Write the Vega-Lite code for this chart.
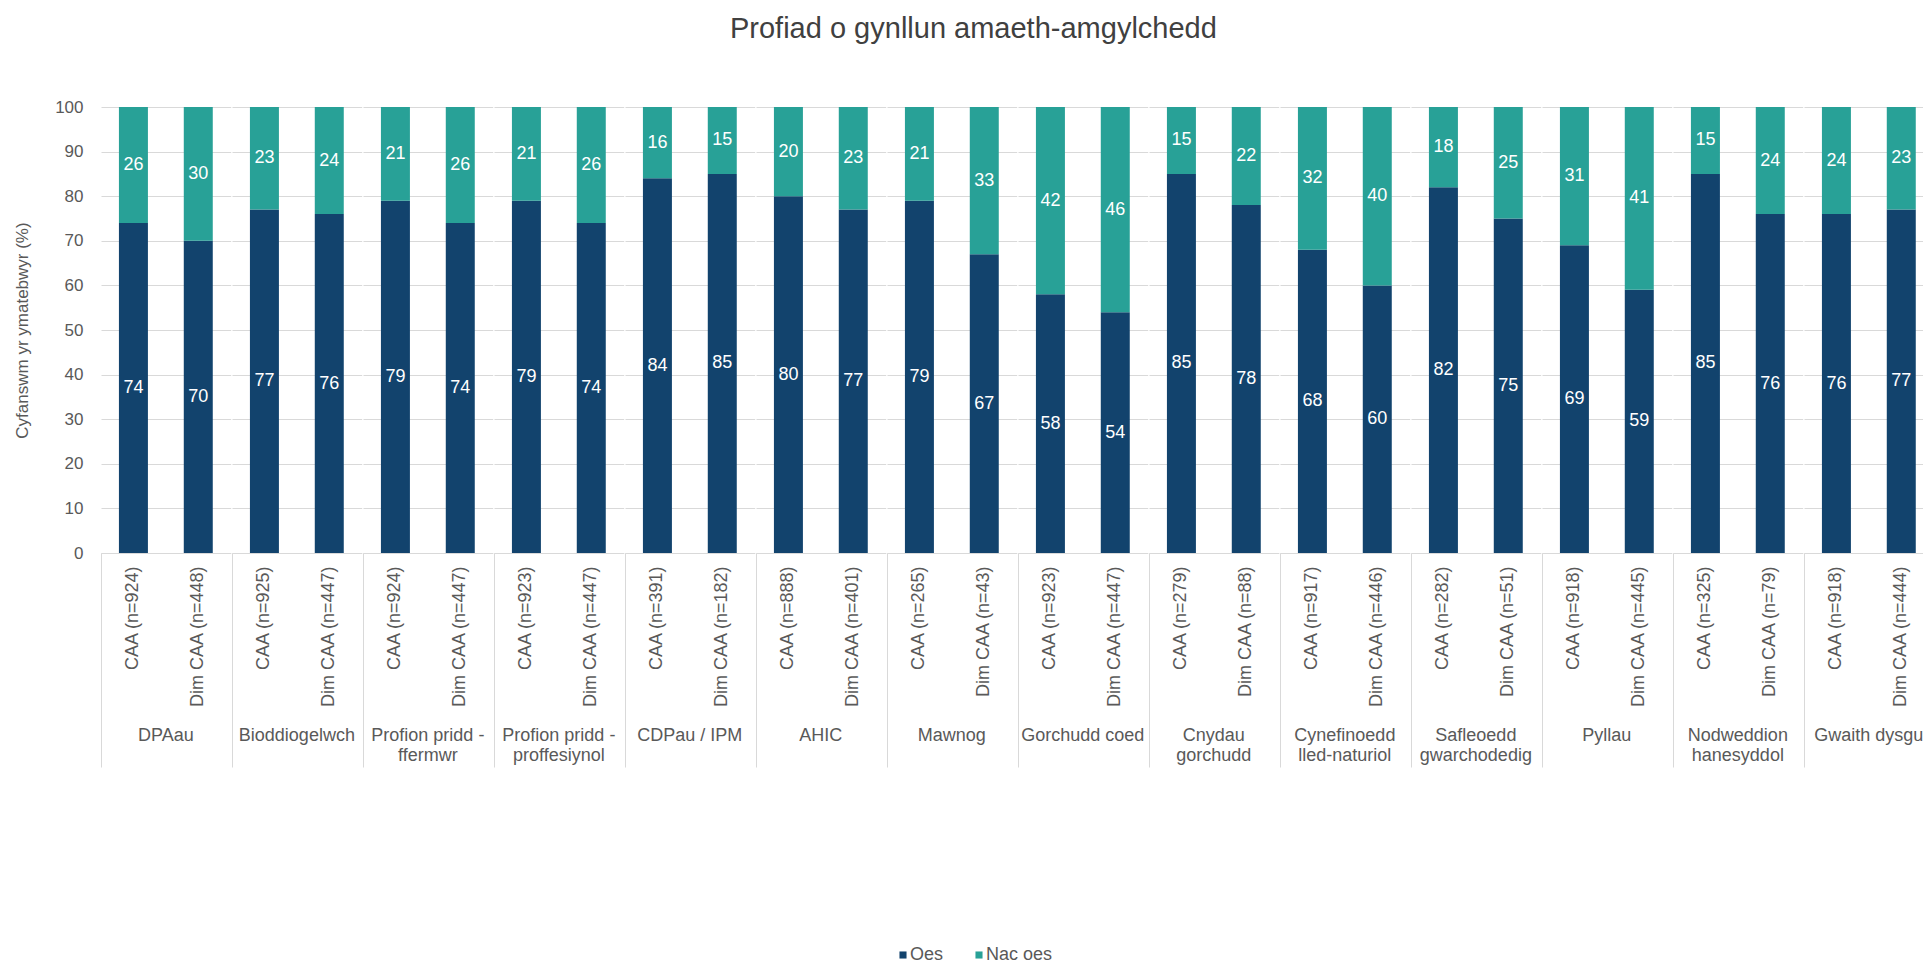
{
  "$schema": "https://vega.github.io/schema/vega-lite/v6.json",
  "padding": {"top": 15, "left": 13, "right": 12, "bottom": 0},
  "title": {"text": "Profiad o gynllun amaeth-amgylchedd", "fontSize": 29, "font": "Liberation Sans", "fontWeight": "normal", "color": "#404040", "anchor": "middle", "frame": "bounds", "offset": 54},
  "data": {"values": [
    {"group":"DPAau","label":"CAA (n=924)","resp":"Oes","value":74},
    {"group":"DPAau","label":"CAA (n=924)","resp":"Nac oes","value":26},
    {"group":"DPAau","label":"Dim CAA (n=448)","resp":"Oes","value":70},
    {"group":"DPAau","label":"Dim CAA (n=448)","resp":"Nac oes","value":30},
    {"group":"Bioddiogelwch","label":"CAA (n=925)","resp":"Oes","value":77},
    {"group":"Bioddiogelwch","label":"CAA (n=925)","resp":"Nac oes","value":23},
    {"group":"Bioddiogelwch","label":"Dim CAA (n=447)","resp":"Oes","value":76},
    {"group":"Bioddiogelwch","label":"Dim CAA (n=447)","resp":"Nac oes","value":24},
    {"group":"Profion pridd - ffermwr","label":"CAA (n=924)","resp":"Oes","value":79},
    {"group":"Profion pridd - ffermwr","label":"CAA (n=924)","resp":"Nac oes","value":21},
    {"group":"Profion pridd - ffermwr","label":"Dim CAA (n=447)","resp":"Oes","value":74},
    {"group":"Profion pridd - ffermwr","label":"Dim CAA (n=447)","resp":"Nac oes","value":26},
    {"group":"Profion pridd - proffesiynol","label":"CAA (n=923)","resp":"Oes","value":79},
    {"group":"Profion pridd - proffesiynol","label":"CAA (n=923)","resp":"Nac oes","value":21},
    {"group":"Profion pridd - proffesiynol","label":"Dim CAA (n=447)","resp":"Oes","value":74},
    {"group":"Profion pridd - proffesiynol","label":"Dim CAA (n=447)","resp":"Nac oes","value":26},
    {"group":"CDPau / IPM","label":"CAA (n=391)","resp":"Oes","value":84},
    {"group":"CDPau / IPM","label":"CAA (n=391)","resp":"Nac oes","value":16},
    {"group":"CDPau / IPM","label":"Dim CAA (n=182)","resp":"Oes","value":85},
    {"group":"CDPau / IPM","label":"Dim CAA (n=182)","resp":"Nac oes","value":15},
    {"group":"AHIC","label":"CAA (n=888)","resp":"Oes","value":80},
    {"group":"AHIC","label":"CAA (n=888)","resp":"Nac oes","value":20},
    {"group":"AHIC","label":"Dim CAA (n=401)","resp":"Oes","value":77},
    {"group":"AHIC","label":"Dim CAA (n=401)","resp":"Nac oes","value":23},
    {"group":"Mawnog","label":"CAA (n=265)","resp":"Oes","value":79},
    {"group":"Mawnog","label":"CAA (n=265)","resp":"Nac oes","value":21},
    {"group":"Mawnog","label":"Dim CAA (n=43)","resp":"Oes","value":67},
    {"group":"Mawnog","label":"Dim CAA (n=43)","resp":"Nac oes","value":33},
    {"group":"Gorchudd coed","label":"CAA (n=923)","resp":"Oes","value":58},
    {"group":"Gorchudd coed","label":"CAA (n=923)","resp":"Nac oes","value":42},
    {"group":"Gorchudd coed","label":"Dim CAA (n=447)","resp":"Oes","value":54},
    {"group":"Gorchudd coed","label":"Dim CAA (n=447)","resp":"Nac oes","value":46},
    {"group":"Cnydau gorchudd","label":"CAA (n=279)","resp":"Oes","value":85},
    {"group":"Cnydau gorchudd","label":"CAA (n=279)","resp":"Nac oes","value":15},
    {"group":"Cnydau gorchudd","label":"Dim CAA (n=88)","resp":"Oes","value":78},
    {"group":"Cnydau gorchudd","label":"Dim CAA (n=88)","resp":"Nac oes","value":22},
    {"group":"Cynefinoedd lled-naturiol","label":"CAA (n=917)","resp":"Oes","value":68},
    {"group":"Cynefinoedd lled-naturiol","label":"CAA (n=917)","resp":"Nac oes","value":32},
    {"group":"Cynefinoedd lled-naturiol","label":"Dim CAA (n=446)","resp":"Oes","value":60},
    {"group":"Cynefinoedd lled-naturiol","label":"Dim CAA (n=446)","resp":"Nac oes","value":40},
    {"group":"Safleoedd gwarchodedig","label":"CAA (n=282)","resp":"Oes","value":82},
    {"group":"Safleoedd gwarchodedig","label":"CAA (n=282)","resp":"Nac oes","value":18},
    {"group":"Safleoedd gwarchodedig","label":"Dim CAA (n=51)","resp":"Oes","value":75},
    {"group":"Safleoedd gwarchodedig","label":"Dim CAA (n=51)","resp":"Nac oes","value":25},
    {"group":"Pyllau","label":"CAA (n=918)","resp":"Oes","value":69},
    {"group":"Pyllau","label":"CAA (n=918)","resp":"Nac oes","value":31},
    {"group":"Pyllau","label":"Dim CAA (n=445)","resp":"Oes","value":59},
    {"group":"Pyllau","label":"Dim CAA (n=445)","resp":"Nac oes","value":41},
    {"group":"Nodweddion hanesyddol","label":"CAA (n=325)","resp":"Oes","value":85},
    {"group":"Nodweddion hanesyddol","label":"CAA (n=325)","resp":"Nac oes","value":15},
    {"group":"Nodweddion hanesyddol","label":"Dim CAA (n=79)","resp":"Oes","value":76},
    {"group":"Nodweddion hanesyddol","label":"Dim CAA (n=79)","resp":"Nac oes","value":24},
    {"group":"Gwaith dysgu","label":"CAA (n=918)","resp":"Oes","value":76},
    {"group":"Gwaith dysgu","label":"CAA (n=918)","resp":"Nac oes","value":24},
    {"group":"Gwaith dysgu","label":"Dim CAA (n=444)","resp":"Oes","value":77},
    {"group":"Gwaith dysgu","label":"Dim CAA (n=444)","resp":"Nac oes","value":23}
  ]},
  "facet": {
    "column": {
      "field": "group",
      "type": "nominal",
      "title": null,
      "sort": ["DPAau","Bioddiogelwch","Profion pridd - ffermwr","Profion pridd - proffesiynol","CDPau / IPM","AHIC","Mawnog","Gorchudd coed","Cnydau gorchudd","Cynefinoedd lled-naturiol","Safleoedd gwarchodedig","Pyllau","Nodweddion hanesyddol","Gwaith dysgu"],
      "header": {
        "labelOrient": "bottom",
        "labelFont": "Liberation Sans",
        "labelFontSize": 18,
        "labelColor": "#595959",
        "labelPadding": -41,
        "labelLineHeight": 20,
        "labelBaseline": "top",
        "labelExpr": "split(replace(replace(replace(replace(replace(datum.value, 'pridd - ', 'pridd -|'), 'Cnydau ', 'Cnydau|'), 'Cynefinoedd ', 'Cynefinoedd|'), 'Safleoedd ', 'Safleoedd|'), 'Nodweddion ', 'Nodweddion|'), '|')"
      }
    }
  },
  "spacing": 0,
  "resolve": {"scale": {"x": "independent"}},
  "spec": {
    "width": 129.7,
    "height": 446,
    "encoding": {
      "x": {
        "field": "label",
        "type": "nominal",
        "sort": null,
        "title": null,
        "scale": {"paddingInner": 0.553, "paddingOuter": 0.2765},
        "axis": {
          "labelAngle": -90,
          "labelFont": "Liberation Sans",
          "labelFontSize": 18,
          "labelColor": "#595959",
          "labelLimit": 0,
          "tickSize": 214,
          "labelPadding": -201,
          "bandPosition": -0.618,
          "tickColor": {"condition": {"test": "indexof(datum.value, 'Dim') == 0", "value": "rgba(0,0,0,0)"}, "value": "#d9d9d9"},
          "domainColor": "#d9d9d9",
          "grid": false
        }
      },
      "order": {"field": "resp", "sort": "descending"}
    },
    "layer": [
      {
        "mark": {"type": "bar"},
        "encoding": {
          "y": {
            "field": "value", "type": "quantitative", "stack": "zero",
            "scale": {"domain": [0, 100]},
            "title": "Cyfanswm yr ymatebwyr (%)",
            "axis": {
              "values": [0,10,20,30,40,50,60,70,80,90,100],
              "grid": true, "gridColor": "#d9d9d9", "domain": false, "ticks": false,
              "labelFont": "Liberation Sans", "labelFontSize": 17, "labelColor": "#595959", "labelPadding": 17,
              "titleFont": "Liberation Sans", "titleFontSize": 17, "titleFontWeight": "normal", "titleColor": "#595959", "titlePadding": 23.5
            }
          },
          "color": {
            "field": "resp", "type": "nominal",
            "scale": {"domain": ["Oes", "Nac oes"], "range": ["#12436D", "#28A197"]},
            "legend": {
              "title": null, "orient": "bottom", "symbolType": "square", "symbolSize": 50,
              "labelFont": "Liberation Sans", "labelFontSize": 18, "labelColor": "#595959",
              "columnPadding": 26, "labelOffset": -2, "offset": 178
            }
          }
        }
      },
      {
        "mark": {"type": "text", "color": "white", "fontSize": 18, "font": "Liberation Sans"},
        "encoding": {
          "y": {
            "field": "value", "type": "quantitative", "stack": "zero", "bandPosition": 0.5,
            "title": "Cyfanswm yr ymatebwyr (%)"
          },
          "text": {"field": "value", "type": "quantitative"}
        }
      }
    ]
  },
  "config": {
    "font": "Liberation Sans",
    "view": {"stroke": null},
    "legend": {"layout": {"bottom": {"anchor": "middle"}}}
  }
}
